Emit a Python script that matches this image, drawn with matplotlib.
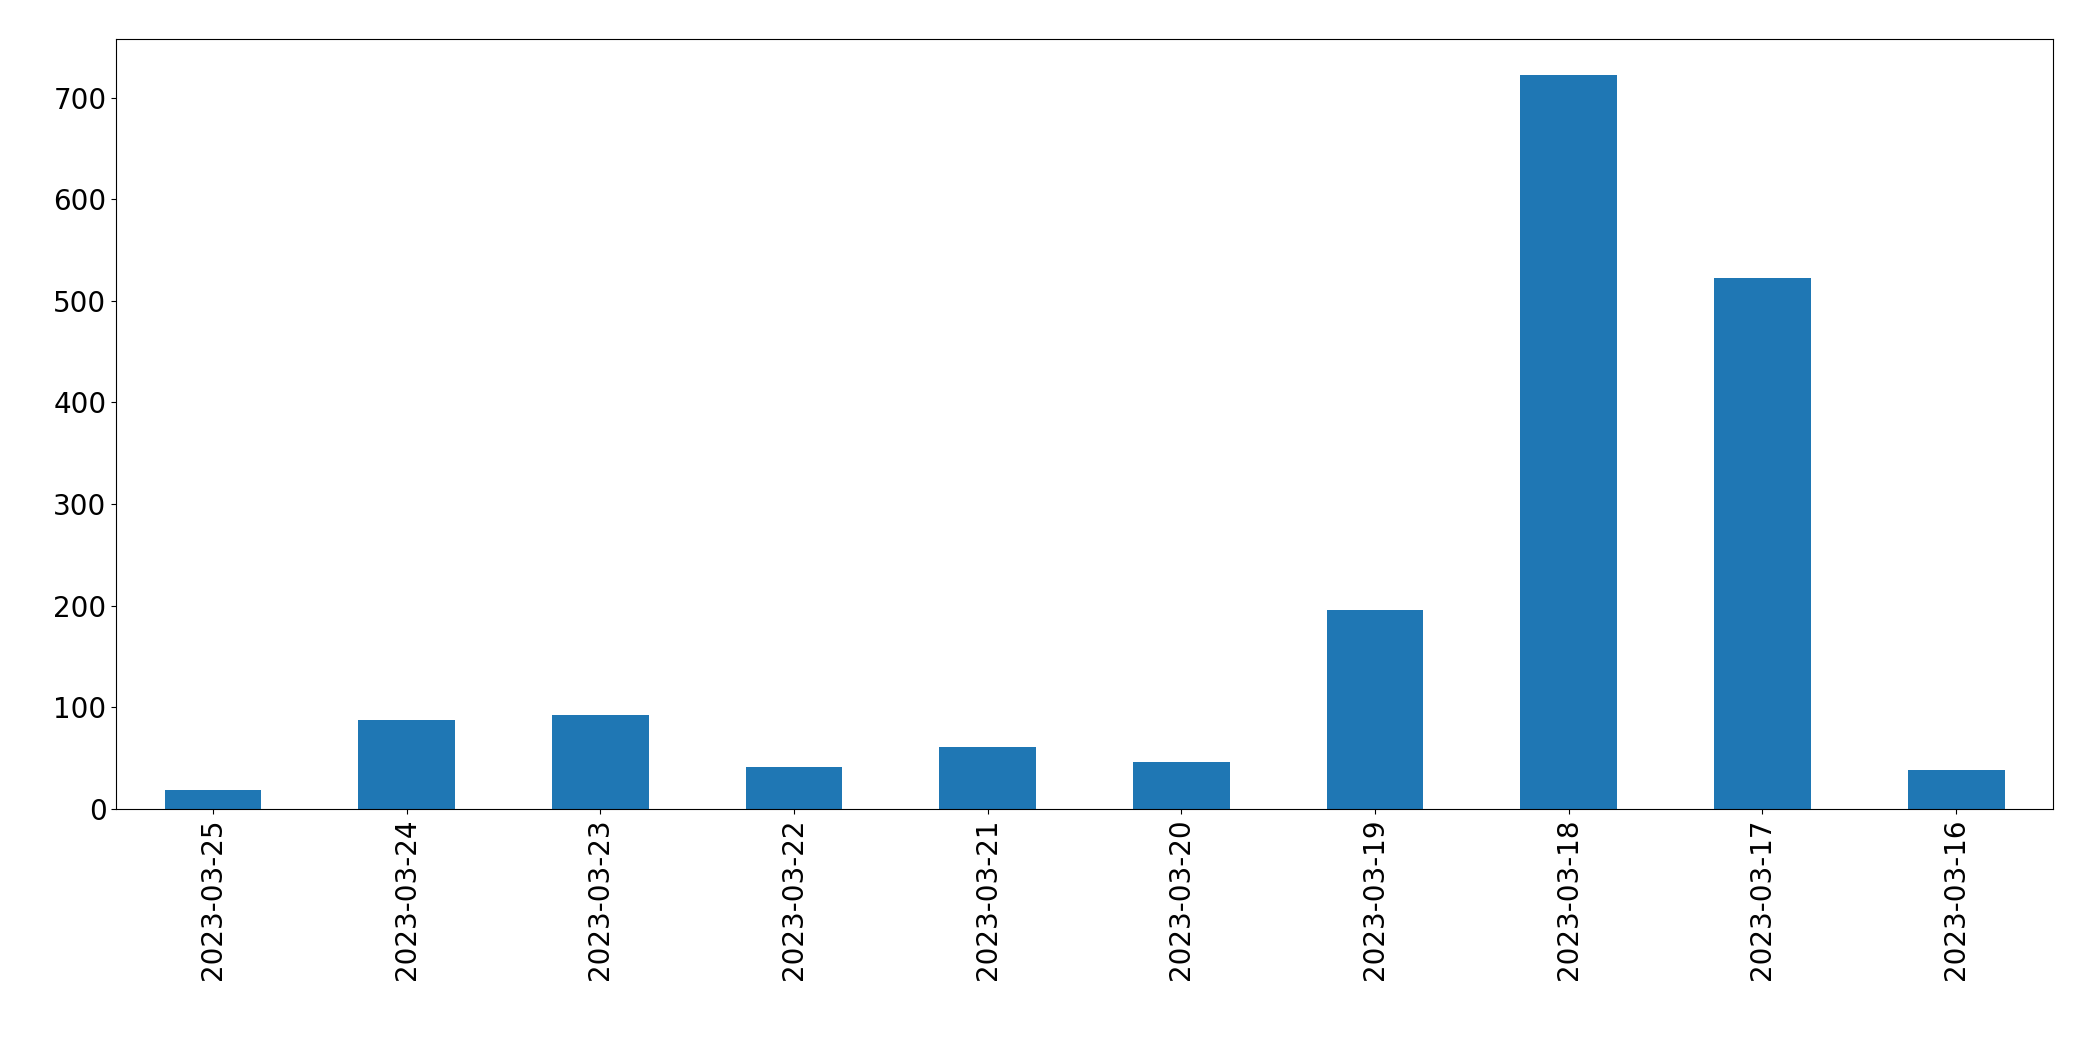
import matplotlib
matplotlib.use('Agg')
from matplotlib import pyplot as plt

dates = ['2023-03-25', '2023-03-24', '2023-03-23', '2023-03-22', '2023-03-21',
         '2023-03-20', '2023-03-19', '2023-03-18', '2023-03-17', '2023-03-16']
counts = [18, 87, 92, 41, 61, 46, 196, 722, 522, 38]

fig = plt.figure(figsize=(20.93, 10.61), dpi=100)
ax = fig.add_axes([87/1568, 1 - 606/795, (1538-87)/1568, (606-29)/795])
x = range(len(dates))
ax.bar(x, counts, width=0.5, color='#1f77b4')
ax.set_xlim(-0.5, len(dates) - 0.5)
ax.set_ylim(0, 758)
ax.set_xticks(list(x))
ax.set_xticklabels(dates, rotation=90)
ax.tick_params(labelsize=20)
plt.savefig('out.png', dpi=100)
